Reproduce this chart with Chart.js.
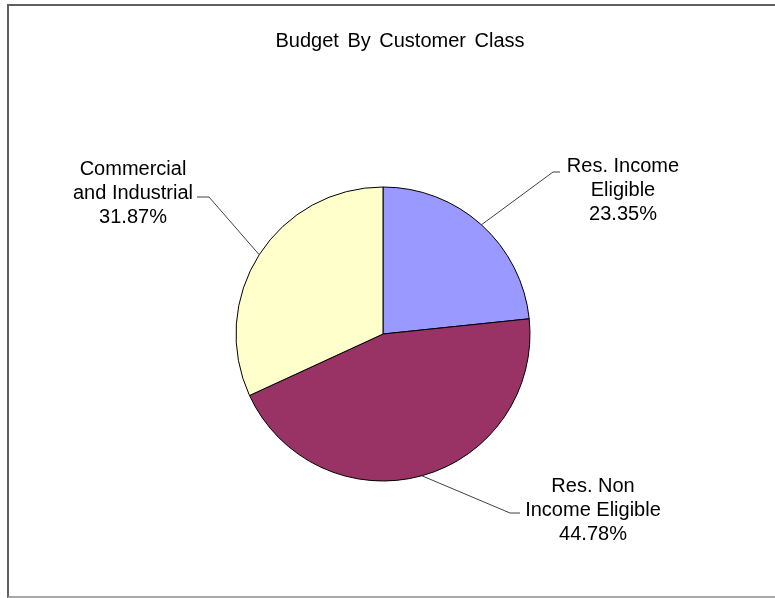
<!DOCTYPE html>
<html>
<head>
<meta charset="utf-8">
<title>Budget By Customer Class</title>
<script src="https://cdn.jsdelivr.net/npm/chart.js@4/dist/chart.umd.min.js"></script>
<style>
    html, body {
        margin: 0;
        padding: 0;
        background: #fff;
        overflow: hidden;
    }
    .frame {
        position: absolute;
        left: 7px;
        top: 4px;
        width: 820px;
        height: 590px;
        border-left: 2px solid #606060;
        border-top: 2px solid #606060;
        border-bottom: 2px solid #a8a8a8;
    }
    .wrap {
        position: absolute;
        left: 0;
        top: 0;
        width: 775px;
        height: 598px;
    }
</style>
</head>
<body>
<div class="frame"></div>
<div class="wrap"><canvas id="budgetChart"></canvas></div>

<script>
// ===========================
// DATA
// ===========================

const chartTitle = 'Budget By Customer Class';

// Each category is split onto the lines it is printed on
const categories = [
    ['Res. Income', 'Eligible'],
    ['Res. Non', 'Income Eligible'],
    ['Commercial', 'and Industrial']
];

const budgetShares = [23.35, 44.78, 31.87];

const sliceColors = ['#9999FF', '#993366', '#FFFFCC'];

// Leader line elbow, tail length and text centre, relative to the pie centre
const labelPlacement = [
    { elbow: [170, -162], tail: 7, text: [240, -168] },
    { elbow: [127, 179], tail: 10, text: [210, 152] },
    { elbow: [-174, -137], tail: -12, text: [-250, -165] }
];

const FONT = '20px "Liberation Sans", Arial, sans-serif';
const LINE_HEIGHT = 24;

// ===========================
// PLUGINS
// ===========================

/**
 * Title drawn at a fixed spot so it doesn't push the pie around
 */
const titlePlugin = {
    id: 'fixedTitle',
    afterDraw(chart) {
        const ctx = chart.ctx;
        ctx.save();
        ctx.font = FONT;
        ctx.fillStyle = '#000';
        ctx.textAlign = 'center';
        ctx.textBaseline = 'middle';
        if ('wordSpacing' in ctx) ctx.wordSpacing = '3px';
        ctx.fillText(chartTitle, 400, 41);
        ctx.restore();
    }
};

/**
 * Category + percentage labels with leader lines, Excel style
 */
const sliceLabelPlugin = {
    id: 'sliceLabels',
    afterDatasetsDraw(chart) {
        const ctx = chart.ctx;
        const meta = chart.getDatasetMeta(0);
        const values = chart.data.datasets[0].data;
        const total = values.reduce((a, b) => a + b, 0);

        ctx.save();
        meta.data.forEach((arc, i) => {
            const { x, y, startAngle, endAngle, outerRadius } =
                arc.getProps(['x', 'y', 'startAngle', 'endAngle', 'outerRadius'], true);
            const mid = (startAngle + endAngle) / 2;
            const sx = x + Math.cos(mid) * outerRadius;
            const sy = y + Math.sin(mid) * outerRadius;
            const p = labelPlacement[i];
            const ex = x + p.elbow[0];
            const ey = y + p.elbow[1];

            // leader line
            ctx.strokeStyle = '#404040';
            ctx.lineWidth = 1;
            ctx.beginPath();
            ctx.moveTo(sx, sy);
            ctx.lineTo(ex, ey);
            ctx.lineTo(ex + p.tail, ey);
            ctx.stroke();

            // text block
            const lines = chart.data.labels[i].concat(
                (values[i] / total * 100).toFixed(2) + '%'
            );
            ctx.font = FONT;
            ctx.fillStyle = '#000';
            ctx.textAlign = 'center';
            ctx.textBaseline = 'middle';
            lines.forEach((line, k) => {
                ctx.fillText(line, x + p.text[0], y + p.text[1] + k * LINE_HEIGHT);
            });
        });
        ctx.restore();
    }
};

// ===========================
// CHART
// ===========================

function initBudgetChart() {
    const ctx = document.getElementById('budgetChart');
    if (!ctx) return;

    new Chart(ctx, {
        type: 'pie',
        data: {
            labels: categories,
            datasets: [{
                data: budgetShares,
                backgroundColor: sliceColors,
                borderColor: '#000',
                borderWidth: 1,
                hoverOffset: 0
            }]
        },
        options: {
            responsive: true,
            maintainAspectRatio: false,
            animation: false,
            events: [],
            layout: {
                padding: {
                    left: 235.5,
                    right: 244.5,
                    top: 186.5,
                    bottom: 116.5
                }
            },
            plugins: {
                legend: {
                    display: false
                },
                title: {
                    display: false
                },
                tooltip: {
                    enabled: false
                }
            }
        },
        plugins: [titlePlugin, sliceLabelPlugin]
    });
}

initBudgetChart();
</script>
</body>
</html>
